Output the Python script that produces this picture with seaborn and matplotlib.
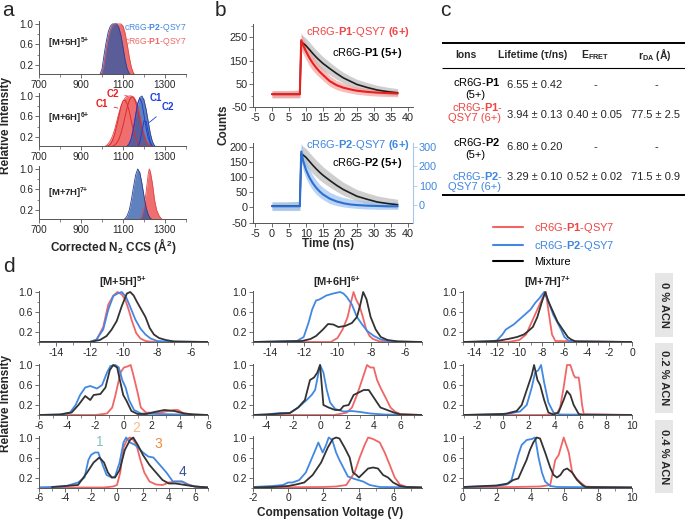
import matplotlib
matplotlib.use("Agg")
import matplotlib.pyplot as plt
from matplotlib.lines import Line2D
from matplotlib.patches import Rectangle
from matplotlib.ticker import MultipleLocator
import seaborn as sns

W, H = 685, 520

# ---------------- panel a: CCS distributions ----------------
a5_ccs = [700, 980, 990, 1000, 1010, 1020, 1030, 1040, 1050, 1060, 1070, 1080, 1090, 1100, 1110, 1120, 1130, 1140, 1150, 1160, 1400]
a5_p2 = [0, 0, 0.01, 0.12, 0.4, 0.65, 0.85, 0.96, 1.0, 1.0, 1.0, 0.93, 0.78, 0.55, 0.3, 0.12, 0.03, 0, 0, 0, 0]
a5_p1 = [0, 0, 0, 0.04, 0.2, 0.48, 0.72, 0.88, 0.97, 1.0, 1.0, 1.0, 1.0, 0.96, 0.82, 0.6, 0.35, 0.15, 0.04, 0, 0]

a6_ccs = [700, 1000, 1010, 1020, 1030, 1040, 1050, 1060, 1070, 1080, 1090, 1100, 1110, 1120, 1130, 1140, 1150, 1160, 1170, 1180, 1190, 1200, 1210, 1220, 1230, 1240, 1250, 1260, 1400]
a6_p1 = [0, 0, 0.01, 0.03, 0.07, 0.13, 0.22, 0.34, 0.5, 0.66, 0.8, 0.9, 0.96, 0.99, 1.0, 1.0, 0.98, 0.92, 0.8, 0.62, 0.42, 0.25, 0.12, 0.05, 0.02, 0.01, 0, 0, 0]
a6_p1_c1 = [0, 0, 0, 0.01, 0.03, 0.06, 0.13, 0.25, 0.42, 0.6, 0.78, 0.9, 0.92, 0.84, 0.7, 0.5, 0.32, 0.19, 0.09, 0.04, 0.02, 0.01, 0, 0, 0, 0, 0, 0, 0]
a6_p1_c2 = [0, 0, 0, 0, 0, 0.01, 0.02, 0.04, 0.08, 0.15, 0.27, 0.42, 0.6, 0.78, 0.91, 0.98, 0.97, 0.88, 0.74, 0.56, 0.38, 0.23, 0.12, 0.06, 0.03, 0.01, 0, 0, 0]
a6_p2 = [0, 0, 0, 0, 0, 0, 0, 0, 0, 0, 0, 0, 0, 0.02, 0.07, 0.17, 0.35, 0.6, 0.84, 0.97, 1.0, 0.92, 0.74, 0.5, 0.27, 0.11, 0.03, 0, 0]
a6_p2_c1 = [0, 0, 0, 0, 0, 0, 0, 0, 0, 0, 0, 0, 0, 0.02, 0.07, 0.18, 0.38, 0.63, 0.86, 0.96, 0.86, 0.63, 0.38, 0.18, 0.07, 0.02, 0, 0, 0]
a6_p2_c2 = [0, 0, 0, 0, 0, 0, 0, 0, 0, 0, 0, 0, 0, 0, 0, 0, 0, 0, 0.01, 0.1, 0.3, 0.52, 0.5, 0.3, 0.1, 0.02, 0, 0, 0]

a7_ccs = [700, 1090, 1100, 1110, 1120, 1130, 1140, 1150, 1160, 1170, 1180, 1190, 1200, 1210, 1220, 1225, 1230, 1240, 1250, 1260, 1270, 1280, 1290, 1300, 1400]
a7_p2 = [0, 0, 0.01, 0.03, 0.09, 0.2, 0.4, 0.65, 0.88, 1.0, 0.93, 0.72, 0.47, 0.25, 0.11, 0.07, 0.04, 0.01, 0, 0, 0, 0, 0, 0, 0]
a7_p1 = [0, 0, 0, 0, 0, 0, 0, 0, 0, 0, 0.02, 0.08, 0.25, 0.55, 0.9, 1.0, 0.95, 0.72, 0.4, 0.2, 0.1, 0.04, 0.01, 0, 0]

# ---------------- panel b: fluorescence decays ----------------
t_ns = [0, 4, 8.2, 8.6, 9.2, 10, 11, 12, 13, 14, 15, 17, 19, 21, 23, 25, 28, 31, 34, 37]
p1q_fit = [6, 6, 6, 238, 215, 190, 162, 139, 120, 103, 89, 62, 45, 34, 27, 21, 16, 13, 11, 9]
p1q_hi = [22, 22, 24, 270, 250, 225, 195, 170, 150, 130, 115, 85, 65, 52, 44, 37, 31, 27, 25, 23]
p1q_lo = [-10, -10, -10, 195, 178, 155, 128, 108, 92, 78, 65, 40, 26, 17, 11, 6, 1, -2, -4, -5]
p1_fit = [6, 6, 6, 230, 224, 214, 198, 181, 165, 151, 138, 116, 95, 76, 62, 48, 35, 24, 17, 12]
p1_hi = [20, 20, 22, 262, 256, 246, 230, 212, 196, 181, 167, 143, 120, 100, 84, 70, 56, 44, 36, 30]
p1_lo = [-8, -8, -8, 198, 192, 182, 166, 150, 135, 121, 109, 89, 70, 53, 41, 29, 17, 8, 2, -1]
p2q_fit = [4, 4, 4, 184, 152, 124, 99, 80, 65, 53, 43, 29, 20, 14, 10, 8, 6, 5, 4, 4]
p2q_hi = [18, 18, 20, 215, 185, 155, 128, 106, 90, 76, 66, 50, 40, 33, 28, 25, 22, 20, 19, 18]
p2q_lo = [-10, -10, -10, 150, 122, 96, 74, 57, 44, 34, 26, 13, 6, 2, -1, -3, -5, -6, -6, -6]
p2_fit = [5, 5, 5, 176, 172, 165, 152, 139, 127, 116, 106, 89, 73, 59, 48, 37, 27, 18, 13, 9]
p2_hi = [18, 18, 20, 205, 201, 194, 181, 168, 156, 145, 134, 116, 99, 83, 71, 59, 48, 38, 32, 27]
p2_lo = [-8, -8, -8, 147, 143, 136, 124, 112, 101, 91, 82, 67, 53, 40, 31, 22, 12, 4, 0, -3]

# ---------------- panel c: table ----------------
ion_rows = [("cR6G-$\\mathbf{P1}$", "(5+)"), ("cR6G-$\\mathbf{P1}$-", "QSY7 (6+)"),
            ("cR6G-$\\mathbf{P2}$", "(5+)"), ("cR6G-$\\mathbf{P2}$-", "QSY7 (6+)")]
lifetimes = ["6.55 ± 0.42", "3.94 ± 0.13", "6.80 ± 0.20", "3.29 ± 0.10"]
e_fret = ["-", "0.40 ± 0.05", "-", "0.52 ± 0.02"]
r_da = ["-", "77.5 ± 2.5", "-", "71.5 ± 0.9"]

# ---------------- panel d: CV scans (a = 0 %, b = 0.2 %, c = 0.4 % ACN) ----------------
d5a_red_x = [-15, -12, -11.6, -11.2, -10.9, -10.6, -10.35, -10.1, -9.9, -9.7, -9.5, -9.25, -9.0, -8.7, -8.2, -5]
d5a_red_y = [0, 0, 0.04, 0.3, 0.75, 0.93, 1.0, 0.95, 0.85, 0.65, 0.42, 0.18, 0.07, 0.02, 0, 0]
d5a_blue_x = [-15, -12, -11.6, -11.2, -10.9, -10.6, -10.35, -10.1, -9.85, -9.6, -9.3, -9.0, -8.7, -8.4, -8.0, -7.5, -5]
d5a_blue_y = [0, 0, 0.05, 0.25, 0.65, 0.92, 0.97, 1.0, 0.9, 0.7, 0.45, 0.27, 0.15, 0.07, 0.02, 0.01, 0]
d5a_mix_x = [-15, -12, -11.4, -11.0, -10.7, -10.4, -10.1, -9.8, -9.6, -9.4, -9.2, -8.95, -8.7, -8.45, -8.2, -7.9, -7.5, -7.0, -5]
d5a_mix_y = [0, 0, 0.04, 0.12, 0.25, 0.42, 0.72, 0.97, 1.0, 0.93, 0.8, 0.65, 0.5, 0.28, 0.15, 0.08, 0.04, 0.01, 0]

d5b_red_x = [-6, -2, -1.17, -0.8, -0.57, -0.21, 0.03, 0.27, 0.51, 0.7, 1.0, 1.23, 1.59, 2.2, 2.67, 3.15, 3.63, 3.87, 4.23, 4.83, 6]
d5b_red_y = [0, 0, 0.03, 0.15, 0.4, 0.85, 0.95, 0.97, 1.0, 0.8, 0.45, 0.15, 0.05, 0.04, 0.05, 0.08, 0.1, 0.1, 0.04, 0.01, 0]
d5b_blue_x = [-6, -4.5, -3.8, -3.4, -3.08, -2.72, -2.36, -1.88, -1.52, -1.17, -0.93, -0.57, -0.33, -0.09, 0.15, 0.39, 0.75, 1.23, 2.5, 4, 6]
d5b_blue_y = [0, 0.01, 0.05, 0.2, 0.4, 0.55, 0.58, 0.53, 0.6, 0.85, 0.98, 1.0, 0.95, 0.7, 0.55, 0.3, 0.1, 0.03, 0.02, 0.01, 0]
d5b_mix_x = [-6, -4.5, -3.68, -3.2, -2.72, -2.36, -2.12, -1.64, -1.28, -0.97, -0.73, -0.45, -0.26, -0.02, 0.22, 0.56, 1.0, 1.6, 2.2, 2.9, 3.6, 4.3, 5.0, 6]
d5b_mix_y = [0, 0.01, 0.05, 0.2, 0.38, 0.3, 0.4, 0.42, 0.55, 0.9, 1.0, 0.95, 0.7, 0.4, 0.28, 0.08, 0.02, 0.02, 0.06, 0.1, 0.08, 0.03, 0.01, 0]

d5c_red_x = [-6, -1, -0.3, 0, 0.25, 0.5, 0.8, 1.0, 1.2, 1.5, 1.8, 2.1, 2.5, 3.0, 3.5, 4.0, 4.5, 5.0, 5.5, 6.0, 7]
d5c_red_y = [0, 0, 0.02, 0.05, 0.3, 0.8, 0.97, 1.0, 0.97, 0.85, 0.55, 0.3, 0.12, 0.06, 0.05, 0.1, 0.12, 0.12, 0.06, 0.02, 0]
d5c_blue_x = [-6, -4, -3, -2.5, -2.2, -2.0, -1.7, -1.44, -1.1, -0.8, -0.4, -0.15, 0.2, 0.5, 0.7, 1.0, 1.4, 2.0, 2.4, 2.8, 3.3, 3.8, 4.3, 5.0, 5.5, 6, 7]
d5c_blue_y = [0, 0.02, 0.1, 0.2, 0.55, 0.65, 0.7, 0.7, 0.45, 0.25, 0.2, 0.22, 0.5, 0.9, 1.0, 0.9, 0.85, 0.7, 0.62, 0.6, 0.45, 0.3, 0.12, 0.12, 0.05, 0.02, 0]
d5c_mix_x = [-5, -3, -2.3, -1.8, -1.36, -1.0, -0.7, -0.4, -0.15, 0.2, 0.6, 1.0, 1.25, 1.6, 2.0, 2.5, 3.0, 3.5, 4.0, 4.5, 5.0, 6, 7]
d5c_mix_y = [0.01, 0.05, 0.3, 0.5, 0.6, 0.5, 0.3, 0.2, 0.2, 0.35, 0.75, 0.95, 1.0, 0.85, 0.65, 0.45, 0.3, 0.15, 0.08, 0.08, 0.06, 0.02, 0]

d6a_red_x = [-15, -10.4, -10.0, -9.7, -9.4, -9.2, -9.05, -8.9, -8.7, -8.5, -8.3, -8.1, -7.9, -7.5, -5]
d6a_red_y = [0, 0, 0.08, 0.25, 0.5, 0.8, 1.0, 0.85, 0.72, 0.5, 0.25, 0.12, 0.06, 0.01, 0]
d6a_blue_x = [-15, -12.4, -12.0, -11.7, -11.5, -11.27, -11.07, -10.66, -10.25, -9.85, -9.65, -9.45, -9.15, -8.85, -8.54, -8.24, -7.84, -7.44, -6.83, -5]
d6a_blue_y = [0, 0.02, 0.1, 0.4, 0.65, 0.83, 0.85, 0.93, 0.97, 1.0, 0.97, 0.9, 0.75, 0.5, 0.35, 0.22, 0.12, 0.05, 0.01, 0]
d6a_mix_x = [-15, -12.1, -11.6, -11.27, -10.86, -10.56, -10.25, -9.95, -9.55, -9.15, -8.85, -8.65, -8.48, -8.28, -8.04, -7.74, -7.44, -7.04, -6.4, -5]
d6a_mix_y = [0, 0.02, 0.06, 0.12, 0.25, 0.36, 0.35, 0.3, 0.32, 0.38, 0.5, 0.75, 1.0, 0.85, 0.5, 0.25, 0.1, 0.04, 0.01, 0]

d6b_red_x = [-5, 1.0, 1.5, 2.0, 2.38, 2.75, 3.13, 3.5, 3.75, 4.0, 4.25, 4.5, 4.88, 5.25, 5.63, 6.0, 7.6]
d6b_red_y = [0, 0, 0.02, 0.05, 0.15, 0.4, 0.7, 1.0, 0.95, 0.95, 0.7, 0.55, 0.35, 0.15, 0.06, 0.02, 0]
d6b_blue_x = [-5, -4, -3.0, -2.25, -1.63, -1.0, -0.63, -0.37, 0, 0.25, 0.5, 0.75, 1.13, 1.75, 2.38, 3.0, 3.75, 4.75, 7.6]
d6b_blue_y = [0, 0.01, 0.04, 0.04, 0.15, 0.3, 0.4, 0.5, 1.0, 0.85, 0.5, 0.25, 0.12, 0.07, 0.08, 0.06, 0.03, 0.01, 0]
d6b_mix_x = [-5, -4, -2.25, -1.63, -1.13, -0.75, -0.45, -0.2, 0, 0.25, 0.63, 1.13, 1.5, 1.75, 2.13, 2.5, 2.88, 3.25, 3.63, 4.0, 4.5, 5.0, 5.5, 6.0, 7.6]
d6b_mix_y = [0, 0.01, 0.04, 0.15, 0.3, 0.7, 0.75, 0.85, 1.0, 0.2, 0.15, 0.1, 0.1, 0.18, 0.2, 0.4, 0.45, 0.5, 0.5, 0.35, 0.15, 0.1, 0.05, 0.01, 0]

d6c_red_x = [-2, 2.0, 2.72, 3.3, 3.77, 4.06, 4.34, 4.54, 4.82, 5.2, 5.48, 5.77, 6.05, 6.34, 6.72, 7.6]
d6c_red_y = [0, 0.01, 0.02, 0.05, 0.3, 0.6, 0.85, 1.0, 0.97, 0.9, 0.7, 0.45, 0.2, 0.06, 0.01, 0]
d6c_blue_x = [-2, -0.9, -0.3, 0.0, 0.25, 0.63, 1.0, 1.3, 1.54, 1.71, 1.96, 2.15, 2.3, 2.5, 2.72, 2.91, 3.2, 3.39, 3.77, 4.25, 4.63, 5.2, 7.6]
d6c_blue_y = [0.01, 0.03, 0.05, 0.1, 0.1, 0.15, 0.3, 0.55, 0.75, 0.9, 0.7, 0.85, 1.0, 0.95, 0.7, 0.55, 0.35, 0.22, 0.17, 0.12, 0.05, 0.01, 0]
d6c_mix_x = [-2, -0.9, 0, 0.44, 0.91, 1.39, 1.87, 2.25, 2.53, 2.72, 2.91, 3.2, 3.49, 3.68, 3.87, 4.02, 4.25, 4.54, 4.82, 5.1, 5.39, 5.67, 5.96, 6.34, 6.72, 7.6]
d6c_mix_y = [0, 0.01, 0.03, 0.06, 0.1, 0.25, 0.5, 0.8, 0.97, 1.0, 0.98, 0.8, 0.6, 0.3, 0.25, 0.2, 0.28, 0.38, 0.4, 0.38, 0.25, 0.2, 0.1, 0.03, 0.01, 0]

d7a_red_x = [-15, -11, -10, -9.4, -9.0, -8.6, -8.2, -7.9, -7.65, -7.4, -7.1, -6.8, 0]
d7a_red_y = [0, 0, 0.04, 0.15, 0.35, 0.55, 0.75, 0.9, 1.0, 0.6, 0.15, 0.02, 0]
d7a_blue_x = [-15, -12.7, -12.0, -11.5, -11.2, -10.5, -10.0, -9.5, -9.0, -8.6, -8.2, -7.8, -7.4, -7.0, -6.6, -6.3, -6.0, -5.6, -4.5, 0]
d7a_blue_y = [0, 0.01, 0.03, 0.15, 0.25, 0.35, 0.45, 0.55, 0.65, 0.78, 0.88, 1.0, 0.8, 0.55, 0.38, 0.25, 0.1, 0.02, 0.01, 0]
d7a_mix_x = [-15, -12, -11, -10.2, -9.6, -9.2, -8.8, -8.4, -8.0, -7.7, -7.4, -7.0, -6.6, -6.3, -6.0, -5.7, -5.4, -5.0, 0]
d7a_mix_y = [0, 0.02, 0.06, 0.1, 0.15, 0.22, 0.3, 0.5, 0.8, 1.0, 0.8, 0.6, 0.4, 0.3, 0.2, 0.1, 0.05, 0.01, 0]

d7b_red_x = [-3.1, 3.0, 3.65, 4.17, 4.43, 4.7, 4.96, 5.22, 5.48, 5.6, 5.87, 6.0, 6.13, 6.26, 10]
d7b_red_y = [0, 0, 0.01, 0.03, 0.15, 0.55, 1.0, 1.0, 0.8, 0.75, 0.75, 0.5, 0.2, 0.02, 0]
d7b_blue_x = [-3.1, -1, 0.28, 1.32, 1.84, 2.23, 2.49, 2.75, 2.95, 3.19, 3.52, 3.91, 4.43, 10]
d7b_blue_y = [0, 0.01, 0.02, 0.07, 0.2, 0.55, 0.85, 0.9, 1.0, 0.65, 0.25, 0.05, 0.01, 0]
d7b_mix_x = [-3.1, 0, 0.3, 1.06, 1.45, 1.84, 2.23, 2.41, 2.67, 2.88, 3.19, 3.52, 3.91, 4.3, 4.7, 4.96, 5.22, 5.48, 5.87, 6.3, 10]
d7b_mix_y = [0, 0.02, 0.03, 0.08, 0.2, 0.5, 0.8, 1.0, 0.7, 0.6, 0.3, 0.05, 0.01, 0.05, 0.3, 0.48, 0.4, 0.2, 0.02, 0, 0]

d7c_red_x = [0, 3.0, 4.56, 5.16, 5.46, 5.66, 5.96, 6.26, 6.46, 6.65, 6.95, 7.25, 8, 10]
d7c_red_y = [0, 0.01, 0.02, 0.05, 0.55, 0.65, 1.0, 0.7, 0.3, 0.2, 0.1, 0.02, 0.0, 0]
d7c_blue_x = [0, 1.98, 2.57, 2.87, 3.07, 3.27, 3.47, 3.77, 4.07, 4.27, 4.47, 4.67, 4.86, 5.16, 5.56, 10]
d7c_blue_y = [0.01, 0.03, 0.06, 0.15, 0.4, 0.65, 0.85, 0.95, 0.97, 1.0, 0.6, 0.3, 0.12, 0.03, 0.01, 0]
d7c_mix_x = [0, 1.98, 2.67, 2.97, 3.27, 3.56, 3.76, 3.96, 4.16, 4.36, 4.56, 4.86, 5.16, 5.36, 5.56, 5.76, 5.96, 6.16, 6.46, 6.75, 7.05, 7.25, 10]
d7c_mix_y = [0.01, 0.04, 0.08, 0.15, 0.18, 0.4, 0.55, 0.75, 0.9, 1.0, 0.98, 0.7, 0.4, 0.25, 0.2, 0.25, 0.35, 0.38, 0.3, 0.15, 0.05, 0.01, 0]

charge_titles = ["[M+5H]$^{\\mathbf{5{+}}}$", "[M+6H]$^{\\mathbf{6{+}}}$", "[M+7H]$^{\\mathbf{7{+}}}$"]
acn_labels = ["0 % ACN", "0.2 % ACN", "0.4 % ACN"]
cv_limits = [[(-15, -5), (-15, -5), (-15, 0)],
             [(-6, 6), (-5, 7.6), (-3.1, 10)],
             [(-6, 7), (-2, 7.6), (0, 10)]]
conformer_tags = ["1", "2", "3", "4"]
conformer_cv = [-1.36, 1.46, 3.18, 5.05]
conformer_int = [0.9, 1.18, 0.86, 0.31]
conformer_colors = ["#86c3b9", "#f6bb8c", "#f08a3e", "#3b4fa0"]

RED = "#f06666"
BLUE = "#4288e3"
MIX = "#333333"

sns.set_style("ticks")
plt.rcParams["font.family"] = ["Liberation Sans", "DejaVu Sans"]
plt.rcParams["mathtext.fontset"] = "custom"
plt.rcParams["mathtext.rm"] = "Liberation Sans"
plt.rcParams["mathtext.bf"] = "Liberation Sans:bold"
plt.rcParams["mathtext.it"] = "Liberation Sans:italic"
plt.rcParams["axes.unicode_minus"] = False

fig = plt.figure(figsize=(W / 100, H / 100), dpi=100)


def place(left, top, right, bottom):
    return fig.add_axes([left / W, 1 - bottom / H, (right - left) / W, (bottom - top) / H])


def style(ax, size=7.5):
    sns.despine(ax=ax)
    for side in ("left", "bottom"):
        ax.spines[side].set_linewidth(0.7)
        ax.spines[side].set_color("#555555")
    ax.tick_params(which="major", length=3, width=0.6, pad=1.2, color="#555555", labelsize=size)
    ax.tick_params(which="minor", length=1.8, width=0.5, color="#555555")
    ax.set_facecolor("none")


def line(ax, x, y, color, lw):
    sns.lineplot(x=x, y=y, ax=ax, color=color, linewidth=lw, estimator=None, legend=False)


# ---------- panel a ----------
a_axes = [place(39, 21.4, 186, 74.2), place(39, 93.4, 186, 146.2), place(39, 166.4, 186, 219.2)]
a_data = [(a5_ccs, a5_p1, a5_p2), (a6_ccs, a6_p1, a6_p2), (a7_ccs, a7_p1, a7_p2)]
for ax, (ccs, p1, p2) in zip(a_axes, a_data):
    ax.fill_between(ccs, p1, 0, color="#ee5f5f", alpha=0.9, linewidth=0)
    line(ax, ccs, p1, "#e04848", 0.6)
    ax.fill_between(ccs, p2, 0, color="#2a58a8", alpha=0.75, linewidth=0)
    line(ax, ccs, p2, "#2a3f90", 0.6)
    ax.set_xlim(700, 1400)
    ax.set_ylim(0.02, 1.05)
    ax.set_xticks([700, 900, 1100, 1300])
    ax.xaxis.set_minor_locator(MultipleLocator(100))
    ax.set_yticks([0.2, 0.6, 1.0])
    ax.yaxis.set_minor_locator(MultipleLocator(0.2))
    ax.set_xlabel("")
    ax.set_ylabel("")
    style(ax, 7.2)

ax = a_axes[1]
for comp in (a6_p1_c1, a6_p1_c2):
    line(ax, a6_ccs, comp, "#e02a2a", 0.7)
for comp in (a6_p2_c1, a6_p2_c2):
    line(ax, a6_ccs, comp, "#1f3fcf", 0.7)
lead_red = dict(arrowstyle="-", lw=0.6, color="#e02a2a")
lead_blue = dict(arrowstyle="-", lw=0.6, color="#1f3fcf")
ax.annotate("C1", xy=(1088, 0.75), xytext=(1000, 0.84), color="#e8201e", fontsize=7, weight="bold",
            ha="center", va="center", arrowprops=lead_red)
ax.annotate("C2", xy=(1135, 0.99), xytext=(1050, 1.04), color="#e8201e", fontsize=7, weight="bold",
            ha="center", va="center", arrowprops=lead_red)
ax.annotate("C1", xy=(1197, 0.93), xytext=(1258, 0.97), color="#1f3fdc", fontsize=7, weight="bold",
            ha="center", va="center", arrowprops=lead_blue)
ax.annotate("C2", xy=(1215, 0.45), xytext=(1314, 0.78), color="#1f3fdc", fontsize=7, weight="bold",
            ha="center", va="center", arrowprops=lead_blue)

# ---------- panel b ----------
b1 = place(253.3, 24, 413, 107.3)
b2 = place(253.3, 143.3, 413, 222.7)
b1.fill_between(t_ns, p1_lo, p1_hi, color="#a0a0a0", alpha=0.5, linewidth=0)
b1.fill_between(t_ns, p1q_lo, p1q_hi, color="#f59a9a", alpha=0.65, linewidth=0)
line(b1, t_ns, p1_fit, "#1e1e1e", 1.2)
line(b1, t_ns, p1q_fit, "#e8211f", 1.5)
b2.fill_between(t_ns, p2_lo, p2_hi, color="#a0a0a0", alpha=0.5, linewidth=0)
b2.fill_between(t_ns, p2q_lo, p2q_hi, color="#9cc3f0", alpha=0.7, linewidth=0)
line(b2, t_ns, p2_fit, "#1e1e1e", 1.2)
line(b2, t_ns, p2q_fit, "#2e6fcf", 1.5)
b1.set_ylim(-50, 307)
b1.set_yticks([-50, 50, 150, 250])
b2.set_ylim(-50, 211)
b2.set_yticks([-50, 0, 50, 100, 150, 200])
for ax in (b1, b2):
    ax.set_xlim(-5.5, 41.5)
    ax.set_xticks(range(-5, 41, 5))
    ax.yaxis.set_minor_locator(MultipleLocator(50))
    ax.set_xlabel("")
    ax.set_ylabel("")
    style(ax, 7.8)
b2r = b2.twinx()
b2r.set_ylim(-92, 319)
b2r.set_yticks([0, 100, 200, 300])
for side in ("top", "left", "bottom"):
    b2r.spines[side].set_visible(False)
b2r.spines["right"].set_color("#a9c6ec")
b2r.spines["right"].set_linewidth(0.8)
b2r.tick_params(axis="y", length=3, width=0.6, pad=1.2, color="#a9c6ec", labelcolor="#3f86e0", labelsize=7.8)

# ---------- panel d ----------
d_series = [
    [(d5a_red_x, d5a_red_y, d5a_blue_x, d5a_blue_y, d5a_mix_x, d5a_mix_y),
     (d6a_red_x, d6a_red_y, d6a_blue_x, d6a_blue_y, d6a_mix_x, d6a_mix_y),
     (d7a_red_x, d7a_red_y, d7a_blue_x, d7a_blue_y, d7a_mix_x, d7a_mix_y)],
    [(d5b_red_x, d5b_red_y, d5b_blue_x, d5b_blue_y, d5b_mix_x, d5b_mix_y),
     (d6b_red_x, d6b_red_y, d6b_blue_x, d6b_blue_y, d6b_mix_x, d6b_mix_y),
     (d7b_red_x, d7b_red_y, d7b_blue_x, d7b_blue_y, d7b_mix_x, d7b_mix_y)],
    [(d5c_red_x, d5c_red_y, d5c_blue_x, d5c_blue_y, d5c_mix_x, d5c_mix_y),
     (d6c_red_x, d6c_red_y, d6c_blue_x, d6c_blue_y, d6c_mix_x, d6c_mix_y),
     (d7c_red_x, d7c_red_y, d7c_blue_x, d7c_blue_y, d7c_mix_x, d7c_mix_y)],
]
col_left = [39, 253, 463]
row_top = [292, 365, 437.5]
d_axes = {}
for r, top in enumerate(row_top):
    for c, left in enumerate(col_left):
        ax = place(left, top - 1.5, left + 169, top + 50)
        rx, ry, bx, by, kx, ky = d_series[r][c]
        line(ax, rx, ry, RED, 1.3)
        line(ax, bx, by, BLUE, 1.3)
        line(ax, kx, ky, MIX, 1.3)
        ax.set_xlim(*cv_limits[r][c])
        ax.set_ylim(0, 1.03)
        ax.xaxis.set_major_locator(MultipleLocator(2))
        ax.xaxis.set_minor_locator(MultipleLocator(1))
        ax.set_yticks([0.2, 0.6, 1.0])
        ax.yaxis.set_minor_locator(MultipleLocator(0.2))
        ax.set_xlabel("")
        ax.set_ylabel("")
        style(ax)
        d_axes[(r, c)] = ax
        if r == 0:
            ax.set_title(charge_titles[c], fontsize=8, weight="bold", pad=-1)

ax = d_axes[(2, 0)]
for tag, xv, yv, col in zip(conformer_tags, conformer_cv, conformer_int, conformer_colors):
    ax.text(xv, yv, tag, color=col, fontsize=10, ha="center", va="center", clip_on=False)

# ---------- overlay: labels, table, legend ----------
ov = fig.add_axes([0, 0, 1, 1])
ov.set_xlim(0, W)
ov.set_ylim(H, 0)
ov.axis("off")

for letter, x, y in [("a", 8, 10), ("b", 220, 11), ("c", 445, 11), ("d", 9, 266)]:
    ov.text(x, y, letter, fontsize=15, ha="center", va="center")

ov.text(6, 125, "Relative Intensity", rotation=90, fontsize=8.5, weight="bold", ha="center", va="center")
ov.text(6, 403, "Relative Intensity", rotation=90, fontsize=8.5, weight="bold", ha="center", va="center")
ov.text(113, 246, "Corrected N$_{\\mathbf{2}}$ CCS (Å$^{\\mathbf{2}}$)", fontsize=8.5, weight="bold", ha="center", va="center")
ov.text(224, 125, "Counts", rotation=90, fontsize=8.5, weight="bold", ha="center", va="center")
ov.text(328, 244, "Time (ns)", fontsize=8.5, weight="bold", ha="center", va="center")
ov.text(330, 513, "Compensation Voltage (V)", fontsize=8.5, weight="bold", ha="center", va="center")

# panel a labels
ov.text(187, 28, "cR6G-$\\mathbf{P2}$-QSY7", color=BLUE, fontsize=6.2, ha="right", va="center")
ov.text(187, 42, "cR6G-$\\mathbf{P1}$-QSY7", color=RED, fontsize=6.2, ha="right", va="center")
for lab, y in zip(charge_titles, [43, 118, 193]):
    ov.text(48, y, lab, fontsize=6.8, weight="bold", ha="left", va="center")

# panel b labels
ov.text(410, 32, "cR6G-$\\mathbf{P1}$-QSY7 $\\mathbf{(6{+})}$", color="#f04545", fontsize=8, ha="right", va="center")
ov.text(402, 53, "cR6G-$\\mathbf{P1}$ $\\mathbf{(5{+})}$", color="black", fontsize=8, ha="right", va="center")
ov.text(410, 145, "cR6G-$\\mathbf{P2}$-QSY7 $\\mathbf{(6{+})}$", color="#3f86e0", fontsize=8, ha="right", va="center")
ov.text(402, 163, "cR6G-$\\mathbf{P2}$ $\\mathbf{(5{+})}$", color="black", fontsize=8, ha="right", va="center")

# panel c table
ov.hlines(43, 442, 685, color="black", lw=1.4)
ov.hlines(68, 442, 685, color="black", lw=0.8)
ov.hlines(195, 442, 685, color="black", lw=1.4)
heads = ["Ions", "Lifetime (τ/ns)", "$\\mathbf{E}_{\\mathbf{FRET}}$", "$\\mathbf{r}_{\\mathbf{DA}}$ (Å)"]
for txt, x in zip(heads, [466, 533, 595, 655]):
    ov.text(x, 55, txt, fontsize=7.5, weight="bold", ha="center", va="center")
ion_colors = ["black", "#f04545", "black", "#3f86e0"]
ion_y = [(82, 95), (107, 118), (142, 155), (176, 187)]
val_y = [85, 115, 147, 177]
for (l1, l2), col, (y1, y2), vy, lt, ef, rd in zip(ion_rows, ion_colors, ion_y, val_y, lifetimes, e_fret, r_da):
    ov.text(477, y1, l1, color=col, fontsize=8, ha="center", va="center")
    ov.text(475, y2, l2, color=col, fontsize=8, ha="center", va="center")
    ov.text(535, vy, lt, fontsize=8, ha="center", va="center")
    ov.text(595, vy, ef, fontsize=8, ha="center", va="center")
    ov.text(656, vy, rd, fontsize=8, ha="center", va="center")

# panel d legend
handles = [Line2D([], [], color=RED, lw=1.5), Line2D([], [], color=BLUE, lw=1.5), Line2D([], [], color="black", lw=1.5)]
labels = ["cR6G-$\\mathbf{P1}$-QSY7", "cR6G-$\\mathbf{P2}$-QSY7", "Mixture"]
leg = ov.legend(handles, labels, loc="upper left", bbox_to_anchor=(493, 221), bbox_transform=ov.transData,
                frameon=False, fontsize=8, handlelength=2.7, handletextpad=1.0, labelspacing=0.35,
                borderpad=0, borderaxespad=0)
for txt, col in zip(leg.get_texts(), ["#f04545", "#3f86e0", "black"]):
    txt.set_color(col)

# ACN boxes
for lab, (y0, y1) in zip(acn_labels, [(273, 337), (343, 413), (420, 493)]):
    ov.add_patch(Rectangle((655, y0), 18, y1 - y0, color="#e6e6e6", lw=0))
    ov.text(664, (y0 + y1) / 2, lab, rotation=-90, fontsize=8, weight="bold", ha="center", va="center")

fig.savefig("out.png", dpi=100)
